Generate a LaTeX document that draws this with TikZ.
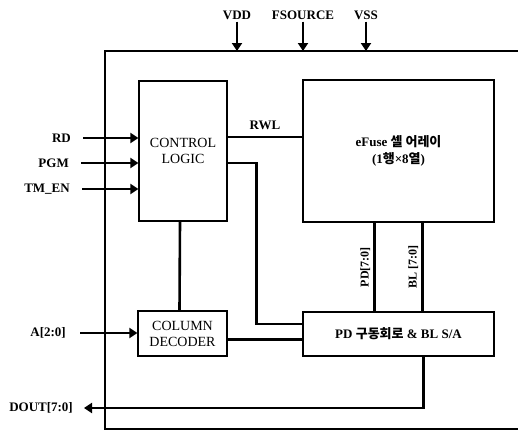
\documentclass[tikz,border=0pt]{standalone}
\usepackage{fontspec}
\setmainfont{Liberation Serif}
\newfontfamily\kr{Noto Sans CJK KR}
\usetikzlibrary{arrows.meta}
\tikzset{
  blk/.style={draw, line width=1.2pt, align=center, font=\fontsize{14}{16}\selectfont},
  bus/.style={line width=2.6pt},
  arr/.style={line width=2.6pt, -{Triangle[length=8pt,width=10pt]}},
  pin/.style={font=\bfseries\fontsize{13}{15}\selectfont, inner sep=2pt},
  buslbl/.style={font=\bfseries\fontsize{12}{14}\selectfont, rotate=90, anchor=south, inner sep=3pt},
}
\begin{document}
\begin{tikzpicture}[x=1pt,y=-1pt]
\useasboundingbox (0,0) rectangle (518,432);
\coordinate (tl) at (105,51);
\coordinate (bl) at (105,429);
\draw[line width=1.5pt] (518,51) -- (tl) -- (bl) -- (518,429);

\node[blk, minimum width=88pt, minimum height=140pt] (ctrl) at (183,151) {CONTROL\\LOGIC};
\node[blk, minimum width=191pt, minimum height=142pt, font=\bfseries\fontsize{13}{17}\selectfont] (array) at (398.5,151) {eFuse {\kr 셀 어레이}\\(1{\kr 행}×8{\kr 열})};
\node[blk, minimum width=89pt, minimum height=45pt] (col) at (182.5,333.5) {COLUMN\\DECODER};
\node[blk, minimum width=191pt, minimum height=44pt, font=\bfseries\fontsize{13}{15}\selectfont] (pd) at (398.5,334) {PD {\kr 구동회로} \& BL S/A};

\node[pin] (vdd) at (237,15) {VDD};
\node[pin] (fsrc) at (303,15) {FSOURCE};
\node[pin] (vss) at (366,15) {VSS};
\foreach \n in {vdd,fsrc,vss}
  \draw[arr] (\n.south) -- (\n.south |- tl);

\node[pin, anchor=east] (rd) at (73,138) {RD};
\node[pin, anchor=east] (pgm) at (71,163) {PGM};
\node[pin, anchor=east] (tmen) at (72,189) {TM\_EN};
\node[pin, anchor=east] (addr) at (68,333) {A[2:0]};
\node[pin, anchor=east] (dout) at (75,408) {DOUT[7:0]};
\foreach \n in {rd,pgm,tmen}
  \draw[arr] ([xshift=10pt]\n.east) -- (\n -| ctrl.west);
\draw[arr] ([xshift=12pt]addr.east) -- (addr -| col.west);

\coordinate (cd) at ([yshift=-6pt]col.east);
\draw[bus] ([yshift=14pt]ctrl.east) -- ([yshift=14pt]array.west) node[midway, above=4pt, pin] {RWL};
\draw[bus] ([yshift=-12pt]ctrl.east) -| ([xshift=-46pt,yshift=10pt]pd.west) -- ([yshift=10pt]pd.west);
\draw[bus] ([xshift=-3pt]ctrl.south) -- ([xshift=-3pt]col.north);
\draw[bus] (cd) -- (cd -| pd.west);
\draw[bus] ([xshift=-24pt]array.south) -- ([xshift=-24pt]pd.north) node[midway, buslbl] {PD[7:0]};
\draw[bus] ([xshift=24pt]array.south) -- ([xshift=24pt]pd.north) node[midway, buslbl] {BL [7:0]};
\draw[arr] ([xshift=25pt]pd.south) |- ([xshift=9pt]dout.east);
\end{tikzpicture}
\end{document}
